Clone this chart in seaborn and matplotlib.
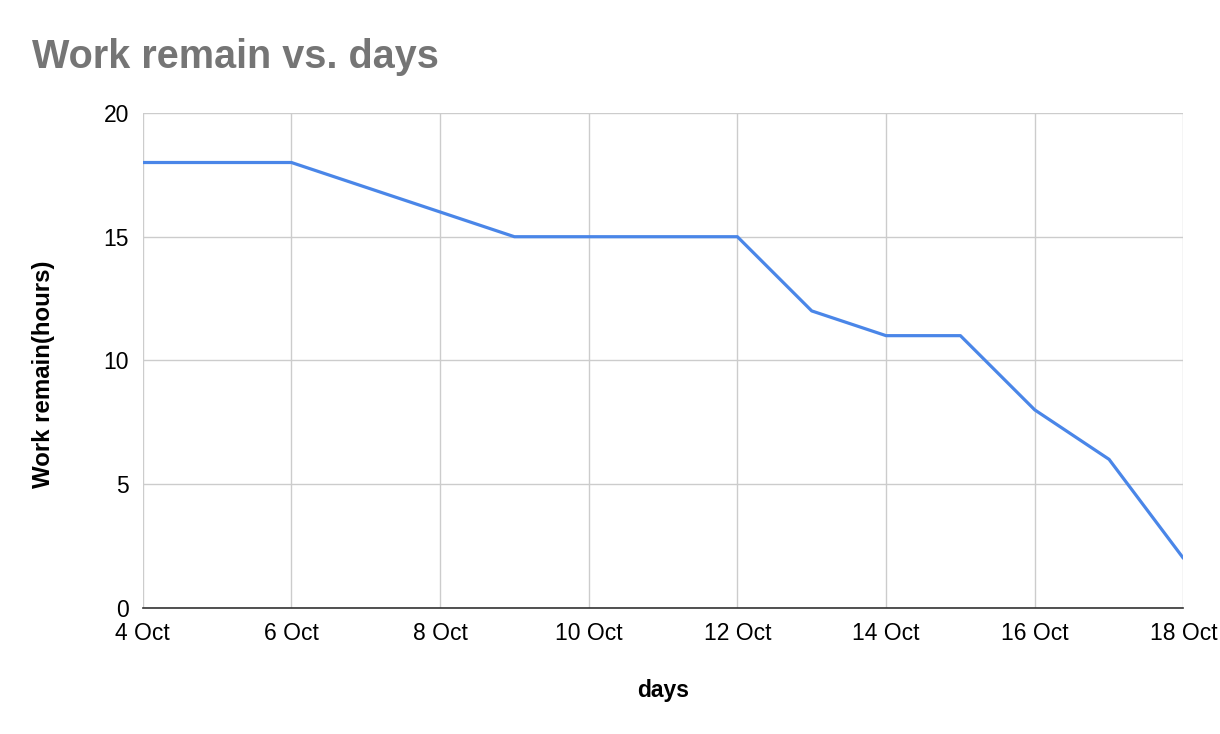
"""Burndown: work remaining vs. days."""
import matplotlib
matplotlib.use("Agg")
import matplotlib.pyplot as plt
import pandas as pd
import seaborn as sns

days = [4, 6, 9, 12, 13, 14, 15, 16, 17, 18]
work_remain = [18, 18, 15, 15, 12, 11, 11, 8, 6, 2]
tick_days = [4, 6, 8, 10, 12, 14, 16, 18]
tick_labels = [f"{d} Oct" for d in tick_days]
y_ticks = [0, 5, 10, 15, 20]

df = pd.DataFrame({"day": days, "work": work_remain})

sns.set_theme(style="whitegrid")
plt.rcParams["font.family"] = ["Liberation Sans", "DejaVu Sans"]

fig = plt.figure(figsize=(12.2, 7.34), dpi=100)
ax = fig.add_axes([0.117, 0.172, 0.853, 0.674])

sns.lineplot(data=df, x="day", y="work", ax=ax, color="#4a86e8", linewidth=2.3)

ax.set_xlim(4, 18)
ax.set_ylim(0, 20)
ax.set_xticks(tick_days)
ax.set_xticklabels(tick_labels)
ax.set_yticks(y_ticks)
ax.tick_params(axis="both", labelsize=16.5, colors="#000000", length=0)
ax.tick_params(axis="x", pad=10)
ax.tick_params(axis="y", pad=10)
ax.grid(True, color="#cccccc", linewidth=1)
for side in ("top", "right", "left"):
    ax.spines[side].set_visible(False)
ax.spines["bottom"].set_color("#333333")
ax.spines["bottom"].set_linewidth(1.2)

ax.set_xlabel("days", fontsize=16.5, fontweight="bold", labelpad=25, color="#000000")
ax.set_ylabel("Work remain(hours)", fontsize=17.3, fontweight="bold", color="#000000")
ax.yaxis.set_label_coords(-0.084, 0.473)

fig.text(0.026, 0.922, "Work remain vs. days", fontsize=28.5, fontweight="bold",
         color="#757575", ha="left", va="center")

fig.savefig("out.png", dpi=100, facecolor="white")
